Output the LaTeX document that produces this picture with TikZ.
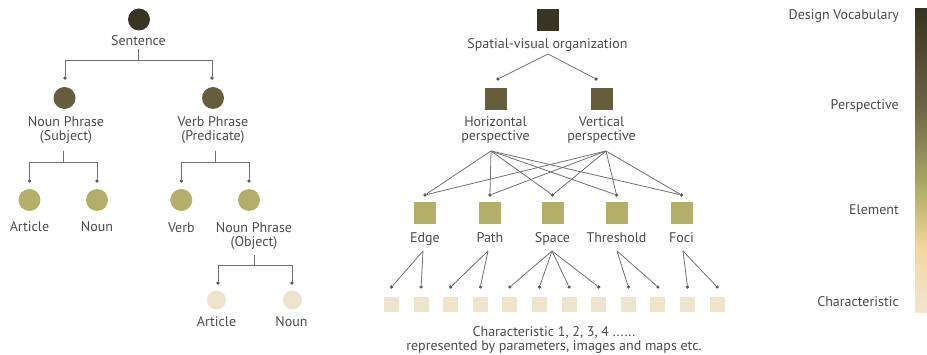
\documentclass[tikz,border=0pt]{standalone}
\usepackage{fontspec}
\setmainfont{PT Sans}
\definecolor{cdark}{HTML}{3A3522}
\definecolor{cmid}{HTML}{665D3C}
\definecolor{colive}{HTML}{B3AF68}
\definecolor{clight}{HTML}{EDE4CB}
\definecolor{txt}{HTML}{4A4A4A}
\definecolor{lin}{HTML}{707070}
\definecolor{gbA}{HTML}{EFE7D2}
\definecolor{gbB}{HTML}{F5D59B}
\definecolor{gbC}{HTML}{B3B169}
\definecolor{gbD}{HTML}{6B6342}
\definecolor{gbE}{HTML}{38331F}
\pgfdeclareverticalshading{legendbar}{100bp}{color(0bp)=(gbA); color(25bp)=(gbA); color(35.9bp)=(gbB); color(44.7bp)=(gbC); color(59.2bp)=(gbD); color(75bp)=(gbE); color(100bp)=(gbE)}
\begin{document}
\begin{tikzpicture}[x=1pt,y=-1pt,
  lbl/.style={font=\fontsize{14}{14}\selectfont, text=txt, inner sep=0pt, anchor=base, align=center},
  ln/.style={draw=lin, line width=0.8pt},
  dotn/.style={circle, fill=lin!80!black, inner sep=0pt, minimum size=3.6pt},
  circ/.style={circle, inner sep=0pt, minimum size=#1},
  sq/.style={rectangle, inner sep=0pt, minimum size=#1}]
\useasboundingbox (0,0) rectangle (927,355);

% ---------------- left tree ----------------
\node[circ=22pt, fill=cdark] (s) at (139,19.5) {};
\node[lbl] (sl) at (138.5,46) {Sentence};
\node[circ=22pt, fill=cmid] (np) at (64.5,98) {};
\node[lbl] (npl) at (66,141) {Noun Phrase\\(Subject)};
\node[circ=22pt, fill=cmid] (vp) at (213,98) {};
\node[lbl] (vpl) at (213,141) {Verb Phrase\\(Predicate)};
\node[dotn] (d1) at (65,78) {};
\node[dotn] (d2) at (212,78) {};
\coordinate (j1a) at (138.5,49);
\coordinate (j1) at (138.5,60);
\draw[ln] (j1a) -- (j1);
\draw[ln] (j1) -| (d1);
\draw[ln] (j1) -| (d2);

\node[circ=22pt, fill=colive] (a1) at (29.5,200) {};
\node[lbl] (a1l) at (29.5,232) {Article};
\node[circ=22pt, fill=colive] (n1) at (97,200) {};
\node[lbl] (n1l) at (97,232) {Noun};
\node[dotn] (d3) at (29.5,181) {};
\node[dotn] (d4) at (97,181) {};
\coordinate (j2a) at (63,151);
\coordinate (j2) at (63,162);
\draw[ln] (j2a) -- (j2);
\draw[ln] (j2) -| (d3);
\draw[ln] (j2) -| (d4);

\node[circ=22pt, fill=colive] (vb) at (181.3,200) {};
\node[lbl] (vbl) at (181.3,233) {Verb};
\node[circ=22pt, fill=colive] (no) at (249,200) {};
\node[lbl] (nol) at (254,247) {Noun Phrase\\(Object)};
\node[dotn] (d5) at (181.3,181) {};
\node[dotn] (d6) at (249,181) {};
\coordinate (j3a) at (215,151);
\coordinate (j3) at (215,162);
\draw[ln] (j3a) -- (j3);
\draw[ln] (j3) -| (d5);
\draw[ln] (j3) -| (d6);

\node[circ=19pt, fill=clight] (a2) at (216.5,300) {};
\node[lbl] (a2l) at (216.5,327) {Article};
\node[circ=19pt, fill=clight] (n2) at (292.5,300) {};
\node[lbl] (n2l) at (291.5,327) {Noun};
\node[dotn] (d7) at (218,283) {};
\node[dotn] (d8) at (292,283) {};
\coordinate (j4a) at (254,255);
\coordinate (j4) at (254,265);
\draw[ln] (j4a) -- (j4);
\draw[ln] (j4) -| (d7);
\draw[ln] (j4) -| (d8);

% ---------------- middle tree ----------------
\node[sq=22pt, fill=cdark] (sv) at (547.5,20) {};
\node[lbl] (svl) at (547.5,49) {Spatial-visual organization};
\coordinate (sva) at (548,54);
\node[dotn] (hd) at (498,79) {};
\node[dotn] (vd) at (596,79) {};
\draw[ln] (sva) -- (hd);
\draw[ln] (sva) -- (vd);

\node[sq=22pt, fill=cmid] (hp) at (495.5,99) {};
\node[lbl] (hpl) at (495.5,141) {Horizontal\\perspective};
\node[sq=22pt, fill=cmid] (vpp) at (601.5,99) {};
\node[lbl] (vppl) at (601.5,141) {Vertical\\perspective};
\coordinate (ha) at (491,151);
\coordinate (va) at (606,151);

\foreach \n/\x/\t in {e1/425/Edge, e2/490/Path, e3/552.5/Space, e4/616.5/Threshold, e5/681.5/Foci}{
  \node[sq=22pt, fill=colive] (\n) at (\x,213) {};
  \node[lbl] (\n l) at (\x,243) {\t};
  \node[dotn] (\n d) at (\x,195) {};
  \draw[ln] (ha) -- (\n d);
  \draw[ln] (va) -- (\n d);
}

\foreach \k in {1,...,12}{
  \pgfmathsetmacro{\cx}{391.5+29.6*(\k-1)}
  \node[sq=15pt, fill=clight] (c\k) at (\cx,305) {};
  \node[dotn] (c\k d) at (\cx,287) {};
}
\coordinate (ea) at (423,251);
\coordinate (pa) at (488,251);
\coordinate (spa) at (552,251);
\coordinate (ta) at (617,251);
\coordinate (fa) at (683,251);
\foreach \k in {1,2}{\draw[ln] (ea) -- (c\k d);}
\foreach \k in {3,4}{\draw[ln] (pa) -- (c\k d);}
\foreach \k in {5,...,8}{\draw[ln] (spa) -- (c\k d);}
\foreach \k in {9,10}{\draw[ln] (ta) -- (c\k d);}
\foreach \k in {11,12}{\draw[ln] (fa) -- (c\k d);}

\node[lbl] (chl) at (554,351) {Characteristic 1, 2, 3, 4 ......\\represented by parameters, images and maps etc.};

% ---------------- legend ----------------
\shade[shading=legendbar] (915,9) rectangle (927,313);
\node[lbl, anchor=base east] (lg1) at (899,20) {Design Vocabulary};
\node[lbl, anchor=base east] (lg2) at (899,110) {Perspective};
\node[lbl, anchor=base east] (lg3) at (899,215) {Element};
\node[lbl, anchor=base east] (lg4) at (899,307) {Characteristic};
\end{tikzpicture}
\end{document}
